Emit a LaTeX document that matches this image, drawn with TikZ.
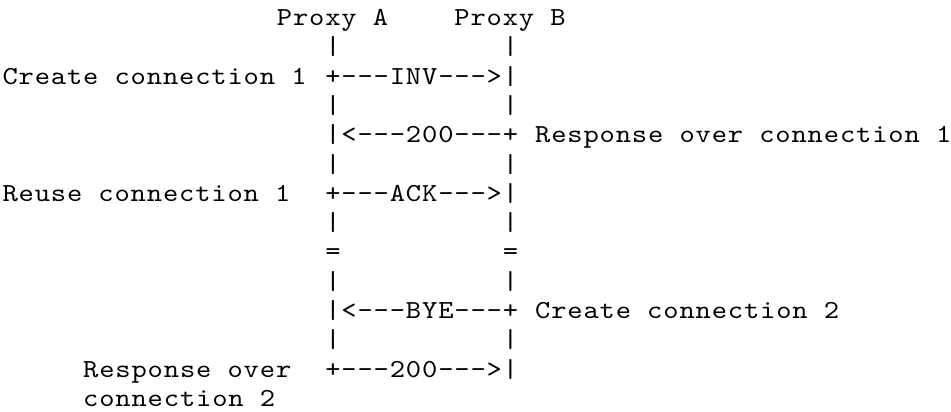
\documentclass[tikz,border=0pt]{standalone}
\usepackage{fontspec}
\newfontfamily\asciifont[FakeStretch=1.12,LetterSpace=3.27]{lmmono10-regular.otf}
\begin{document}
\def\cw{16.14}
\def\lh{29.3}
\def\xo{2.5}
\def\yo{25.5}
\begin{tikzpicture}[x=1pt,y=1pt,
  txt/.style={inner sep=0pt, outer sep=0pt, anchor=base west,
    font=\asciifont\fontsize{26}{29.3}\selectfont, text=black}]
\useasboundingbox (0,0) rectangle (951,-412);
% line 0: headers
\node[txt] (pA) at ({\xo+17*\cw},{-\yo-0*\lh}) {Proxy A};
\node[txt] (pB) at ({\xo+28*\cw},{-\yo-0*\lh}) {Proxy B};
% lifeline pieces
\foreach \l in {1,3,5,7,9,11}{
  \node[txt] (lA\l) at ({\xo+20*\cw},{-\yo-\l*\lh}) {|};
  \node[txt] (lB\l) at ({\xo+31*\cw},{-\yo-\l*\lh}) {|};
}
% line 2
\node[txt] (c1) at ({\xo+0*\cw},{-\yo-2*\lh}) {Create connection 1};
\node[txt] (inv) at ({\xo+20*\cw},{-\yo-2*\lh}) {+---INV--->|};
% line 4
\node[txt] (r200) at ({\xo+20*\cw},{-\yo-4*\lh}) {|<---200---+};
\node[txt] (resp1) at ({\xo+33*\cw},{-\yo-4*\lh}) {Response over connection 1};
% line 6
\node[txt] (reuse) at ({\xo+0*\cw},{-\yo-6*\lh}) {Reuse connection 1};
\node[txt] (ack) at ({\xo+20*\cw},{-\yo-6*\lh}) {+---ACK--->|};
% line 8
\node[txt] (eqA) at ({\xo+20*\cw},{-\yo-8*\lh}) {=};
\node[txt] (eqB) at ({\xo+31*\cw},{-\yo-8*\lh}) {=};
% line 10
\node[txt] (bye) at ({\xo+20*\cw},{-\yo-10*\lh}) {|<---BYE---+};
\node[txt] (c2) at ({\xo+33*\cw},{-\yo-10*\lh}) {Create connection 2};
% line 12-13
\node[txt] (resp2a) at ({\xo+5*\cw},{-\yo-12*\lh}) {Response over};
\node[txt] (ok200) at ({\xo+20*\cw},{-\yo-12*\lh}) {+---200--->|};
\node[txt] (resp2b) at ({\xo+5*\cw},{-\yo-13*\lh}) {connection 2};
\end{tikzpicture}
\end{document}
